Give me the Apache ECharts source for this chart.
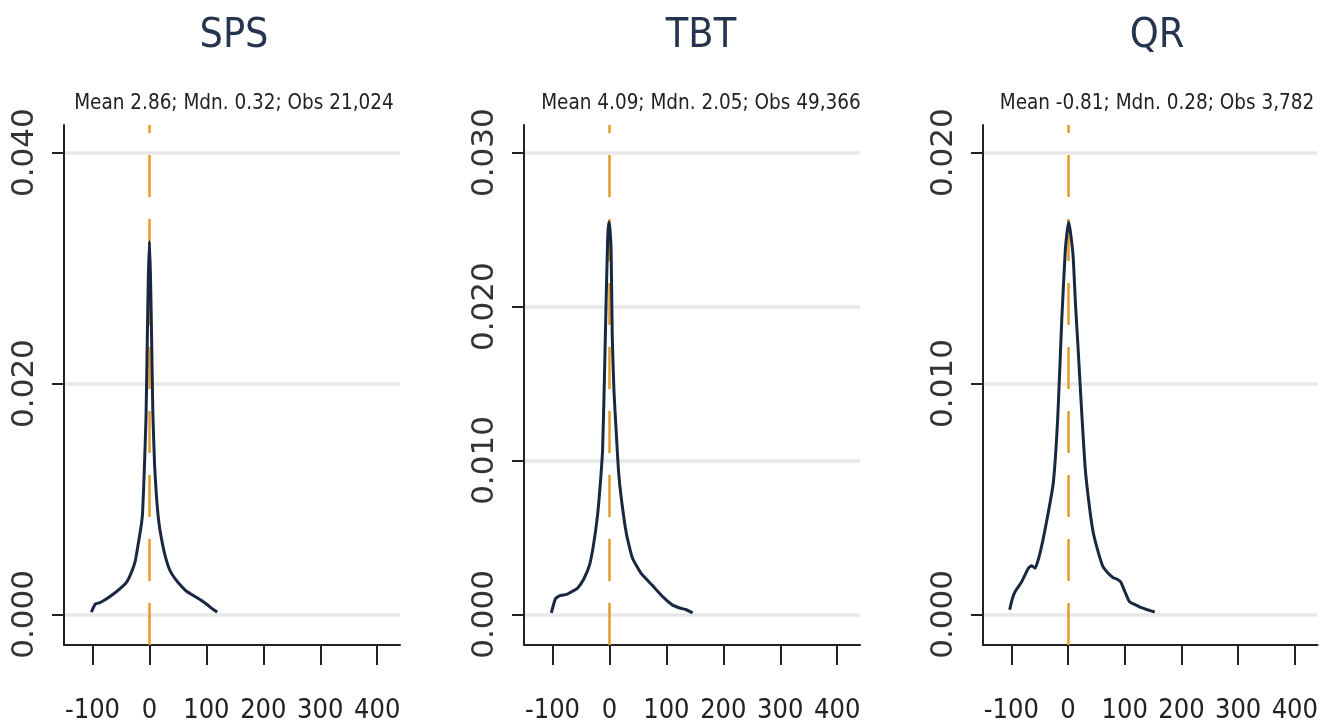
<!DOCTYPE html>
<html>
<head>
<meta charset="utf-8">
<script src="https://cdn.jsdelivr.net/npm/echarts@6/dist/echarts.min.js"></script>
<style>
html,body{margin:0;padding:0;background:#fff;}
#chart{width:1321px;height:724px;}
</style>
</head>
<body>
<div id="chart"></div>
<script>
// ---- data ----
const panelTitles = ['SPS', 'TBT', 'QR'];
const panelSubtitles = [
  'Mean 2.86; Mdn. 0.32; Obs 21,024',
  'Mean 4.09; Mdn. 2.05; Obs 49,366',
  'Mean -0.81; Mdn. 0.28; Obs 3,782'
];
const xTickValues = [-100, 0, 100, 200, 300, 400];
const yTickValuesSPS = [0, 0.02, 0.04];
const yTickValuesTBT = [0, 0.01, 0.02, 0.03];
const yTickValuesQR = [0, 0.01, 0.02];
const refLineX = [0, 0, 0];

const spsX = [-102,-95,-88,-80,-65,-50,-40,-32,-25,-20,-15,-12,-9,-6,-4,-2,0,2,4,6,9,12,16,21,28,36,45,55,65,75,88,100,110,119];
const spsY = [0.0002,0.0009,0.0010,0.0012,0.0017,0.0023,0.0028,0.0036,0.0046,0.0060,0.0075,0.0088,0.0125,0.0170,0.0230,0.0290,0.0323,0.0290,0.0235,0.0175,0.0130,0.0105,0.0082,0.0066,0.0050,0.0038,0.0031,0.0025,0.0020,0.0017,0.0013,0.0009,0.0005,0.0002];

const tbtX = [-102,-95,-88,-75,-65,-56,-45,-35,-28,-21,-16,-12,-9,-6,-3,-1,1,3,5,8,12,16,21,30,40,55,75,95,111,125,135,146];
const tbtY = [0.0001,0.0010,0.0012,0.0013,0.0015,0.0017,0.0023,0.0032,0.0045,0.0064,0.0085,0.0107,0.0150,0.0200,0.0245,0.0255,0.0250,0.0236,0.0180,0.0145,0.0118,0.0093,0.0075,0.0052,0.0037,0.0027,0.0019,0.0011,0.0006,0.0004,0.0003,0.0001];

const qrX = [-103,-98,-93,-82,-70,-64,-58,-49,-38,-26,-18,-11,-5,-2,1,4,9,13,18,24,30,37,44,52,61,70,79,88,93,100,107,111,120,128,140,153];
const qrY = [0.0002,0.0007,0.0010,0.0014,0.0020,0.0021,0.0020,0.0027,0.0040,0.0057,0.0086,0.0128,0.0157,0.0165,0.0170,0.0166,0.0155,0.0135,0.0114,0.0088,0.0064,0.0048,0.0036,0.0028,0.0021,0.0018,0.0016,0.0015,0.0014,0.0010,0.0006,0.0005,0.0004,0.0003,0.0002,0.0001];

// ---- layout / style ----
const COND = "'DejaVu Sans Condensed','Liberation Sans Narrow',sans-serif";
const WIDE = "'DejaVu Sans',sans-serif";
const grids = [
  {left: 64, top: 125, width: 336, height: 526},
  {left: 524, top: 125, width: 336, height: 526},
  {left: 983, top: 125, width: 337, height: 526}
];
const titleCenters = [229, 696, 1152];
const yRanges = [[-0.002655, 0.0424], [-0.00199, 0.0318], [-0.001328, 0.0212]];
const yTicks = [yTickValuesSPS, yTickValuesTBT, yTickValuesQR];
const seriesX = [spsX, tbtX, qrX];
const seriesY = [spsY, tbtY, qrY];

const pair = (xs, ys) => xs.map((x, i) => [x, ys[i]]);

const titles = [];
const xAxes = [], yAxes = [], series = [];
grids.forEach((g, i) => {
  const cx = titleCenters[i];
  titles.push({
    text: panelTitles[i], left: cx, top: 11, textAlign: 'center',
    textStyle: {fontFamily: COND, fontSize: 41, fontWeight: 'normal', color: '#27344f'}
  });
  titles.push({
    text: panelSubtitles[i], left: cx, top: 88, textAlign: 'center',
    textStyle: {fontFamily: COND, fontSize: 20.5, fontWeight: 'normal', color: '#222'}
  });
  xAxes.push({
    gridIndex: i, type: 'value', min: -150, max: 440,
    axisLine: {show: true, onZero: false, lineStyle: {color: '#222', width: 2}},
    axisTick: {show: true, length: 20, lineStyle: {color: '#222', width: 2}, customValues: xTickValues},
    axisLabel: {customValues: xTickValues, margin: 52, fontFamily: COND, fontSize: 27, color: '#222', hideOverlap: false},
    splitLine: {show: false}
  });
  yAxes.push({
    gridIndex: i, type: 'value', min: yRanges[i][0], max: yRanges[i][1],
    axisLine: {show: true, onZero: false, lineStyle: {color: '#222', width: 2}},
    axisTick: {show: true, length: 12, lineStyle: {color: '#222', width: 2}, customValues: yTicks[i]},
    axisLabel: {customValues: yTicks[i], rotate: 90, margin: 24, fontFamily: WIDE, fontSize: 31, color: '#333',
      formatter: v => v.toFixed(3)},
    splitLine: {show: true, lineStyle: {color: '#e8e8e8', width: 3.5}}
  });
  series.push({
    type: 'line', xAxisIndex: i, yAxisIndex: i,
    data: pair(seriesX[i], seriesY[i]),
    showSymbol: false, smooth: 0.15,
    lineStyle: {color: '#1a2740', width: 3},
    z: 5,
    markLine: {
      silent: true, symbol: 'none', label: {show: false},
      lineStyle: {color: '#e39b2c', width: 2.5, type: [42, 22]},
      data: [{xAxis: refLineX[i]}],
      z: 1
    }
  });
});

const chart = echarts.init(document.getElementById('chart'), null, {renderer: 'canvas'});
chart.setOption({
  animation: false,
  backgroundColor: '#ffffff',
  title: titles,
  grid: grids,
  xAxis: xAxes,
  yAxis: yAxes,
  series: series
});
</script>
</body>
</html>
